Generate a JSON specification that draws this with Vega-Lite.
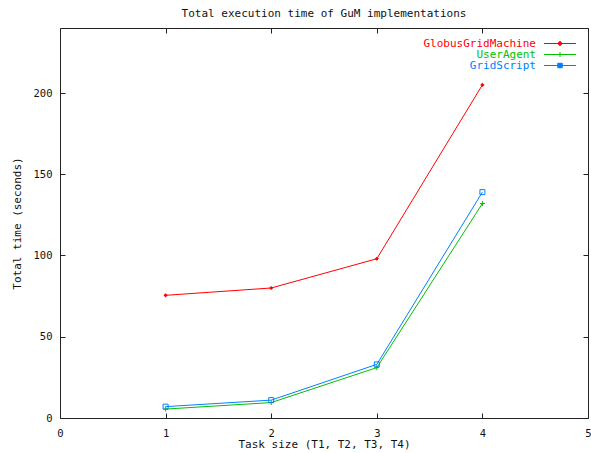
{
  "$schema": "https://vega.github.io/schema/vega-lite/v6.json",
  "width": 528,
  "height": 390,
  "autosize": {"type": "none"},
  "padding": {"left": 60, "top": 28, "right": 3, "bottom": 35},
  "background": "white",
  "title": {
    "text": "Total execution time of GuM implementations",
    "font": "DejaVu Sans Mono",
    "fontSize": 11,
    "fontWeight": "normal",
    "color": "#111",
    "anchor": "middle",
    "offset": 9
  },
  "data": {
    "values": [
      {"task": 1, "impl": "GlobusGridMachine", "time": 75.5},
      {"task": 2, "impl": "GlobusGridMachine", "time": 80},
      {"task": 3, "impl": "GlobusGridMachine", "time": 98},
      {"task": 4, "impl": "GlobusGridMachine", "time": 205},
      {"task": 1, "impl": "UserAgent", "time": 5.5},
      {"task": 2, "impl": "UserAgent", "time": 9.5},
      {"task": 3, "impl": "UserAgent", "time": 31},
      {"task": 4, "impl": "UserAgent", "time": 132},
      {"task": 1, "impl": "GridScript", "time": 7},
      {"task": 2, "impl": "GridScript", "time": 11},
      {"task": 3, "impl": "GridScript", "time": 33},
      {"task": 4, "impl": "GridScript", "time": 139}
    ]
  },
  "layer": [
    {
      "mark": {"type": "line", "strokeWidth": 1},
      "encoding": {
        "x": {
          "field": "task", "type": "quantitative",
          "scale": {"domain": [0, 5], "nice": false, "zero": false},
          "axis": {
            "orient": "bottom", "values": [0, 1, 2, 3, 4, 5], "format": "d",
            "title": "Task size (T1, T2, T3, T4)",
            "tickSize": -5, "labelPadding": 15, "domain": false, "grid": false,
            "titlePadding": 0, "labelFlush": false
          }
        },
        "y": {
          "field": "time", "type": "quantitative",
          "scale": {"domain": [0, 240], "nice": false},
          "axis": {
            "orient": "left", "values": [0, 50, 100, 150, 200],
            "title": "Total time (seconds)",
            "tickSize": -5, "labelPadding": 13, "domain": false, "grid": false,
            "titlePadding": 11
          }
        },
        "color": {
          "field": "impl", "type": "nominal",
          "scale": {"domain": ["GlobusGridMachine", "UserAgent", "GridScript"], "range": ["#ff0000", "#00c000", "#0080ff"]},
          "legend": {
            "orient": "none",
            "legendX": 369,
            "legendY": 10,
            "padding": 0,
            "title": null,
            "symbolSize": 100,
            "symbolStrokeWidth": 1,
            "symbolFillColor": "transparent",
            "labelFont": "DejaVu Sans Mono",
            "labelFontSize": 11,
            "rowPadding": -4,
            "encode": {
              "symbols": {"update": {
                "shape": {"signal": "datum.value === 'GlobusGridMachine' ? 'M-3.2,0H3.2M0,-0.45L0.45,0L0,0.45L-0.45,0Z' : datum.value === 'UserAgent' ? 'M-3.2,0H3.2M0,-0.5V0.5' : 'M-3.2,0H3.2M-0.45,-0.45H0.45V0.45H-0.45Z'"},
                "x": {"value": 131}
              }},
              "labels": {"update": {
                "x": {"value": 107},
                "align": {"value": "right"},
                "fill": {"scale": "color", "field": "value"}
              }}
            }
          }
        }
      }
    },
    {
      "transform": [{"filter": "datum.impl === 'GlobusGridMachine'"}],
      "mark": {"type": "point", "shape": "diamond", "filled": true, "size": 18, "strokeWidth": 1, "opacity": 1},
      "encoding": {
        "x": {
          "field": "task", "type": "quantitative",
          "axis": {"orient": "top", "values": [0, 1, 2, 3, 4, 5], "labels": false, "title": null, "tickSize": -5, "domain": false, "grid": false}
        },
        "y": {
          "field": "time", "type": "quantitative",
          "axis": {"orient": "right", "values": [0, 50, 100, 150, 200], "labels": false, "title": null, "tickSize": -5, "domain": false, "grid": false}
        },
        "color": {"field": "impl", "type": "nominal", "legend": null}
      }
    },
    {
      "transform": [{"filter": "datum.impl === 'UserAgent'"}],
      "mark": {"type": "point", "shape": "M-1,0H1M0,-1V1", "filled": false, "size": 25, "strokeWidth": 1, "opacity": 1},
      "encoding": {
        "x": {"field": "task", "type": "quantitative", "axis": null},
        "y": {"field": "time", "type": "quantitative", "axis": null},
        "color": {"field": "impl", "type": "nominal", "legend": null}
      }
    },
    {
      "transform": [{"filter": "datum.impl === 'GridScript'"}],
      "mark": {"type": "point", "shape": "square", "filled": false, "size": 25, "strokeWidth": 1, "opacity": 1},
      "encoding": {
        "x": {"field": "task", "type": "quantitative", "axis": null},
        "y": {"field": "time", "type": "quantitative", "axis": null},
        "color": {"field": "impl", "type": "nominal", "legend": null}
      }
    }
  ],
  "resolve": {"axis": {"x": "independent", "y": "independent"}},
  "config": {
    "view": {"stroke": "#222", "strokeWidth": 1},
    "axis": {
      "labelFont": "DejaVu Sans Mono",
      "labelFontSize": 10.5,
      "labelColor": "#111",
      "titleFont": "DejaVu Sans Mono",
      "titleFontSize": 11,
      "titleFontWeight": "normal",
      "titleColor": "#111",
      "tickColor": "#222",
      "tickWidth": 1
    }
  }
}
